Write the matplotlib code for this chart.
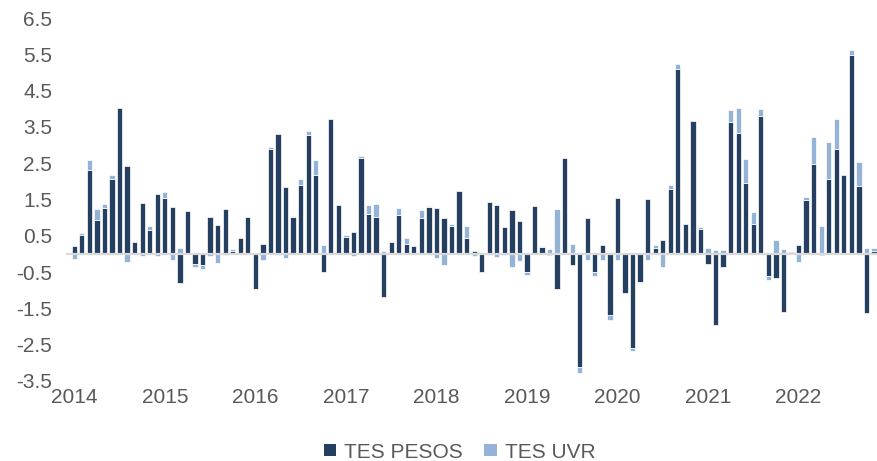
import matplotlib
matplotlib.use("Agg")
import matplotlib.pyplot as plt
from matplotlib.patches import Patch
import numpy as np

years = ["2014", "2015", "2016", "2017", "2018", "2019", "2020", "2021", "2022"]

tes_pesos = [
    0.22, 0.51, 2.31, 0.94, 1.26, 2.07, 4.03, 2.42, 0.32, 1.40, 0.66, 1.66,
    1.54, 1.28, -0.81, 1.18, -0.28, -0.30, 1.03, 0.80, 1.24, 0.08, 0.43, 1.02,
    -0.96, 0.28, 2.89, 3.31, 1.85, 1.01, 1.90, 3.29, 2.18, -0.49, 3.72, 1.34,
    0.48, 0.61, 2.65, 1.11, 1.02, -1.18, 0.34, 1.07, 0.27, 0.23, 0.98, 1.29,
    1.27, 0.99, 0.78, 1.74, 0.45, 0.08, -0.51, 1.44, 1.36, 0.73, 1.21, 0.91,
    -0.49, 1.32, 0.18, -0.03, -0.97, 2.64, -0.31, -3.12, 0.99, -0.49, 0.24, -1.68,
    1.55, -1.08, -2.60, -0.77, 1.51, 0.17, 0.38, 1.80, 5.10, 0.82, 3.66, 0.69,
    -0.27, -1.97, -0.35, 3.64, 3.33, 1.96, 0.83, 3.79, -0.61, -0.65, -1.61, 0.06,
    0.25, 1.49, 2.48, -0.03, 2.07, 2.89, 2.18, 5.49, 1.87, -1.64, 0.08,
]

tes_uvr = [
    -0.15, 0.06, 0.27, 0.29, 0.12, 0.11, 0.00, -0.21, 0.00, -0.07, 0.11, -0.05,
    0.16, -0.17, 0.16, 0.00, -0.07, -0.12, -0.05, -0.26, -0.03, 0.05, 0.00, 0.00,
    -0.03, -0.17, 0.07, -0.03, -0.10, 0.04, 0.17, 0.10, 0.40, 0.24, 0.00, 0.00,
    0.04, -0.07, 0.04, 0.24, 0.36, 0.07, 0.00, 0.20, 0.17, 0.00, 0.22, 0.02,
    -0.12, -0.30, 0.04, 0.00, 0.32, -0.06, 0.00, -0.02, -0.09, -0.03, -0.37, -0.19,
    -0.09, 0.00, 0.04, 0.14, 1.24, 0.00, 0.27, -0.17, -0.16, -0.12, -0.17, -0.15,
    -0.17, 0.00, -0.08, -0.03, -0.17, 0.07, -0.35, 0.10, 0.13, 0.00, -0.02, 0.04,
    0.17, 0.11, 0.11, 0.32, 0.69, 0.65, 0.32, 0.20, -0.11, 0.39, 0.13, 0.00,
    -0.23, 0.07, 0.75, 0.77, 1.02, 0.82, 0.00, 0.12, 0.66, 0.17, 0.08,
]

y_ticks = [-3.5, -2.5, -1.5, -0.5, 0.5, 1.5, 2.5, 3.5, 4.5, 5.5, 6.5]

plt.rcParams['font.family'] = ['Liberation Sans', 'DejaVu Sans']
text_color = "#595959"
dark = "#243F60"
light = "#95B3D7"

fig = plt.figure(figsize=(8.77, 4.61), dpi=100)
ax = fig.add_axes([66 / 877, 1 - 381 / 461, 1 - 66 / 877, (381 - 18) / 461])

p = np.array(tes_pesos)
u = np.array(tes_uvr)
x = np.arange(len(p))
bottom_u = np.where(np.sign(u) == np.sign(p), p, 0.0)

w = 0.70
ax.bar(x, p, width=w, color=dark, edgecolor="white", linewidth=0.5, zorder=2)
ax.bar(x, u, bottom=bottom_u, width=w, color=light, edgecolor="white", linewidth=0.5, zorder=2)
ax.axhline(0, color="#D9D9D9", linewidth=1.6, zorder=3)

ax.set_xlim(-1.1, 106.4)
ax.set_ylim(-3.5, 6.5)
ax.set_yticks(y_ticks)
ax.set_yticklabels([f"{t:.1f}" for t in y_ticks])
ax.set_xticks(np.arange(len(years)) * 12)
ax.set_xticklabels(years)
ax.tick_params(axis="both", length=0, labelsize=15, colors=text_color)
ax.tick_params(axis="x", pad=5)
ax.tick_params(axis="y", pad=10)
for s in ax.spines.values():
    s.set_visible(False)

handles = [Patch(facecolor=dark, edgecolor="none", label="TES PESOS"),
           Patch(facecolor=light, edgecolor="none", label="TES UVR")]
fig.legend(handles=handles, loc="center", bbox_to_anchor=(0.524, 1 - 452 / 461), ncol=2,
           frameon=False, fontsize=15, handlelength=0.6, handleheight=0.45,
           handletextpad=0.4, columnspacing=1.0, labelcolor=text_color)

fig.savefig("out.png", dpi=100)
